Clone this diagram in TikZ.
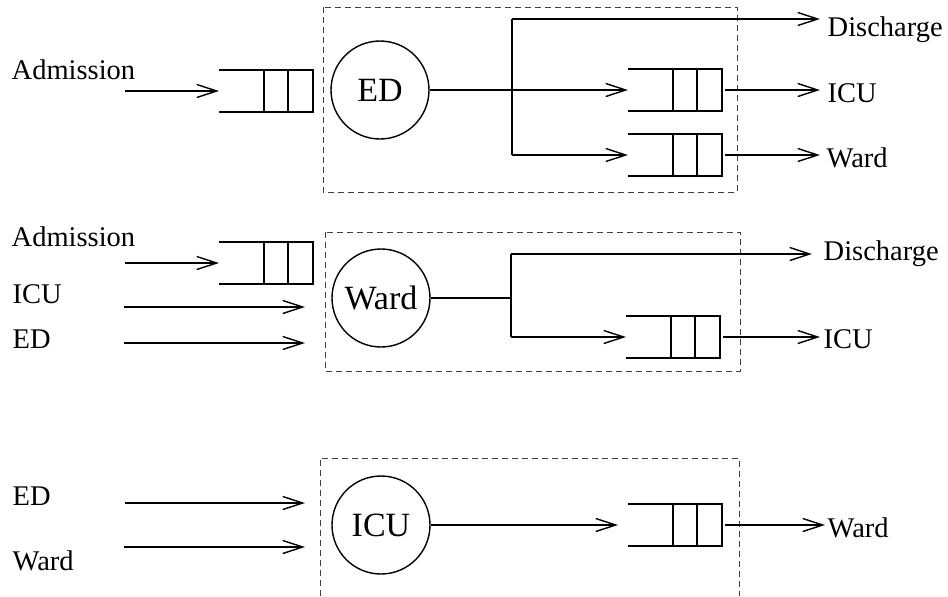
\documentclass[tikz,border=0pt]{standalone}
\usepackage{fontspec}
\setmainfont{Liberation Serif}
\usetikzlibrary{arrows.meta}

\begin{document}
\begin{tikzpicture}[x=0.5pt,y=-0.5pt,line width=0.7pt,
    >={Straight Barb[length=10pt,width=6.5pt]},
    server/.style={circle,draw,minimum size=49pt,inner sep=0pt,font=\fontsize{17}{20}\selectfont},
    lbl/.style={inner sep=0pt,anchor=base west,font=\fontsize{14.25}{17}\selectfont},
    unit/.style={draw=black!75,line width=0.5pt,dash pattern=on 3pt off 2pt},
    queue/.pic={
        \draw (0,-21) -- (94,-21) -- (94,21) -- (0,21);
        \draw (45,-21) -- (45,21) (69,-21) -- (69,21);
        \coordinate (-in) at (0,0);
        \coordinate (-out) at (97,0);
    }]
    \useasboundingbox (0,0) rectangle (948,596);

    % ED
    \draw[unit] (323,7) rectangle (737,192);
    \node[server] (ed) at (380,90) {ED};
    \pic (qadm1) at (219,91) {queue};
    \pic (qicu1) at (628,90) {queue};
    \pic (qward1) at (628,155) {queue};
    \node[lbl] (adm1) at (11,79) {Admission};
    \node[lbl] (dis1) at (827,36) {Discharge};
    \node[lbl] (icu1) at (827,102) {ICU};
    \node[lbl] (ward1) at (826,167) {Ward};
    \coordinate (adm1s) at (125,91);
    \coordinate (br1a) at (512,19);
    \coordinate (br1b) at (512,155);
    \draw[->] (adm1s) -- (qadm1-in);
    \draw[->] (ed) -- (qicu1-in);
    \draw (br1a) -- (br1b);
    \draw[->,shorten >=3.5pt] (br1a) -- (br1a -| dis1.west);
    \draw[->] (br1b) -- (qward1-in);
    \draw[->,shorten >=3.5pt] (qicu1-out) -- (qicu1-out -| icu1.west);
    \draw[->,shorten >=3pt] (qward1-out) -- (qward1-out -| ward1.west);

    % Ward
    \draw[unit] (325,232) rectangle (740,371);
    \node[server] (ward) at (381,298) {Ward};
    \pic (qadm2) at (219,263) {queue};
    \pic (qicu2) at (626,337) {queue};
    \node[lbl] (adm2) at (11,246) {Admission};
    \node[lbl] (icu2) at (12,303) {ICU};
    \node[lbl] (ed2) at (12,348) {ED};
    \node[lbl] (dis2) at (823,260) {Discharge};
    \node[lbl] (icu2o) at (823,348) {ICU};
    \coordinate (adm2s) at (125,263);
    \coordinate (icu2s) at (124,307);
    \coordinate (icu2e) at (305,307);
    \coordinate (ed2s) at (124,343);
    \coordinate (ed2e) at (305,343);
    \coordinate (br2) at (511,298);
    \coordinate (br2a) at (511,254);
    \coordinate (br2b) at (511,337);
    \draw[->] (adm2s) -- (qadm2-in);
    \draw[->] (icu2s) -- (icu2e);
    \draw[->] (ed2s) -- (ed2e);
    \draw (ward) -- (br2);
    \draw (br2a) -- (br2b);
    \draw[->,shorten >=5.5pt] (br2a) -- (br2a -| dis2.west);
    \draw[->] (br2b) -- (qicu2-in);
    \draw[->,shorten >=1.5pt] (qicu2-out) -- (qicu2-out -| icu2o.west);

    % ICU
    \draw[unit] (320,596) |- (739,458) -- (739,596);
    \node[server] (icu) at (381,525) {ICU};
    \pic (qward3) at (628,525) {queue};
    \node[lbl] (ed3) at (12,505) {ED};
    \node[lbl] (ward3) at (12,570) {Ward};
    \node[lbl] (ward3o) at (827,537) {Ward};
    \coordinate (ed3s) at (125,503);
    \coordinate (ed3e) at (305,503);
    \coordinate (ward3s) at (124,547);
    \coordinate (ward3e) at (305,547);
    \draw[->] (ed3s) -- (ed3e);
    \draw[->] (ward3s) -- (ward3e);
    \draw[->,shorten >=5pt] (icu) -- (qward3-in);
    \draw[->,shorten >=1pt] (qward3-out) -- (qward3-out -| ward3o.west);
\end{tikzpicture}
\end{document}
